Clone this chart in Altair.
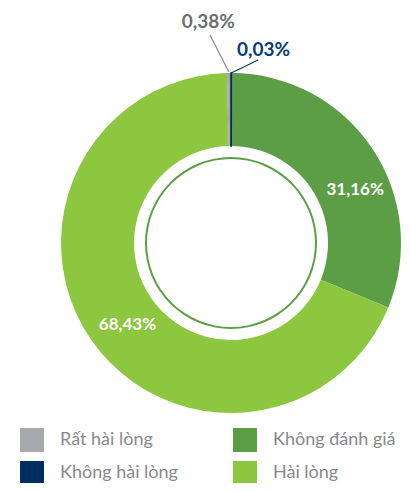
import altair as alt
import pandas as pd

# slices, clockwise from 12 o'clock
categories = ["Không hài lòng", "Không đánh giá", "Hài lòng", "Rất hài lòng"]
values = [0.03, 31.16, 68.43, 0.38]
labels = ["0,03%", "31,16%", "68,43%", "0,38%"]

# legend is filled column by column
legend_order = ["Rất hài lòng", "Không hài lòng", "Không đánh giá", "Hài lòng"]
legend_colors = ["#a7a9ac", "#002d62", "#5c9e45", "#8dc63f"]

df = pd.DataFrame({"category": categories, "value": values, "label": labels,
                   "order": list(range(len(categories)))})

W, H = 395, 475
CX, CY = 223, 235
R_OUT, R_IN = 170, 97

xs = alt.Scale(domain=[-CX, W - CX], range=[0, W])
ys = alt.Scale(domain=[-(H - CY), CY])
ts = alt.Scale(domain=[0, 100])

base = alt.Chart(df).transform_window(
    end="sum(value)", sort=[alt.SortField("order")]
).transform_calculate(
    start="datum.end - datum.value",
    ang="(datum.end - datum.value/2) / 100 * 2 * PI",
)

color = alt.Color("category:N", scale=alt.Scale(domain=legend_order, range=legend_colors),
                  legend=alt.Legend(orient="none", legendX=12, legendY=420, columns=2,
                                    title=None, symbolType="square", symbolSize=576,
                                    symbolStrokeWidth=0, labelFontSize=18, labelFont="Lato",
                                    labelColor="#87898c", labelOffset=16, columnPadding=55,
                                    rowPadding=9, symbolOpacity=1))

arcs = base.mark_arc(radius=R_OUT, radius2=R_IN).encode(
    theta=alt.Theta("start:Q", scale=ts),
    theta2="end:Q",
    color=color,
    x=alt.datum(0, scale=xs, axis=None),
    y=alt.datum(0, scale=ys, axis=None),
)

# make the hair-thin slice visible with a stroke of its own colour
thin = base.transform_filter(alt.datum.category == "Không hài lòng").mark_arc(
    radius=R_OUT, radius2=R_IN, stroke="#002d62", strokeWidth=1.6
).encode(
    theta=alt.Theta("start:Q", scale=ts),
    theta2="end:Q",
    color=alt.Color("category:N", legend=None),
    x=alt.datum(0, scale=xs),
    y=alt.datum(0, scale=ys),
)

ring = alt.Chart(alt.Data(values=[{"a": 1}])).mark_arc(
    radius=86, radius2=84, theta=0, theta2=6.2832, color="#5c9e45"
).encode(x=alt.datum(0, scale=xs), y=alt.datum(0, scale=ys))

# label placement (radius, angular offset in degrees, font size) per slice
place_r = {"Không hài lòng": 196, "Không đánh giá": 135, "Hài lòng": 132, "Rất hài lòng": 222}
place_d = {"Không hài lòng": 9.5, "Không đánh giá": 10.7, "Hài lòng": -3.8, "Rất hài lòng": -5.2}
place_s = {"Không hài lòng": 19, "Không đánh giá": 17, "Hài lòng": 17, "Rất hài lòng": 19}
r_expr = " : ".join(f"datum.category == '{k}' ? {v}" for k, v in place_r.items()) + " : 0"
d_expr = " : ".join(f"datum.category == '{k}' ? {v}" for k, v in place_d.items()) + " : 0"
s_expr = " : ".join(f"datum.category == '{k}' ? {v}" for k, v in place_s.items()) + " : 17"

lab = base.transform_calculate(
    lr=r_expr, ld=d_expr, fs=s_expr
).transform_calculate(
    la="datum.ang + datum.ld * PI / 180"
).transform_calculate(
    lx="datum.lr * sin(datum.la)", ly="datum.lr * cos(datum.la)"
)

lab_color = alt.Color("category:N", legend=None,
                      scale=alt.Scale(domain=["Không hài lòng", "Không đánh giá", "Hài lòng", "Rất hài lòng"],
                                      range=["#0b3a78", "#ffffff", "#ffffff", "#6d6e71"]))
texts = lab.mark_text(font="Lato", fontWeight="bold", align="center",
                      baseline="middle").encode(
    x=alt.X("lx:Q", scale=xs),
    y=alt.Y("ly:Q", scale=ys),
    text="label:N",
    color=lab_color,
    size=alt.Size("fs:Q", scale=None, legend=None),
)

# leader lines for the two thin slices
lead_r1 = {"Không hài lòng": 170, "Rất hài lòng": 171}
lead_r2 = {"Không hài lòng": 185, "Rất hài lòng": 209}
lead_d = {"Không hài lòng": 8.4, "Rất hài lòng": -5.1}
e1 = " : ".join(f"datum.category == '{k}' ? {v}" for k, v in lead_r1.items()) + " : 0"
e2 = " : ".join(f"datum.category == '{k}' ? {v}" for k, v in lead_r2.items()) + " : 0"
e3 = " : ".join(f"datum.category == '{k}' ? {v}" for k, v in lead_d.items()) + " : 0"
leads = base.transform_filter(
    "datum.category == 'Không hài lòng' || datum.category == 'Rất hài lòng'"
).transform_calculate(r1=e1, r2=e2, dd=e3).transform_calculate(
    x1="datum.r1 * sin(datum.ang)", y1="datum.r1 * cos(datum.ang)",
    x2="datum.r2 * sin(datum.ang + datum.dd * PI / 180)",
    y2="datum.r2 * cos(datum.ang + datum.dd * PI / 180)",
).mark_rule(strokeWidth=1.3).encode(
    x=alt.X("x1:Q", scale=xs), y=alt.Y("y1:Q", scale=ys),
    x2="x2:Q", y2="y2:Q",
    color=alt.Color("category:N", legend=None,
                    scale=alt.Scale(domain=["Không hài lòng", "Rất hài lòng"],
                                    range=["#0b3a78", "#8a8c8f"])),
)

chart = alt.layer(arcs, thin, ring, leads, texts).resolve_scale(color="independent").properties(
    width=W, height=H, padding=0, autosize=alt.AutoSizeParams(type="none")
).configure_view(stroke=None)

chart.save("out.html", embed_options={"renderer": "svg", "actions": False})
